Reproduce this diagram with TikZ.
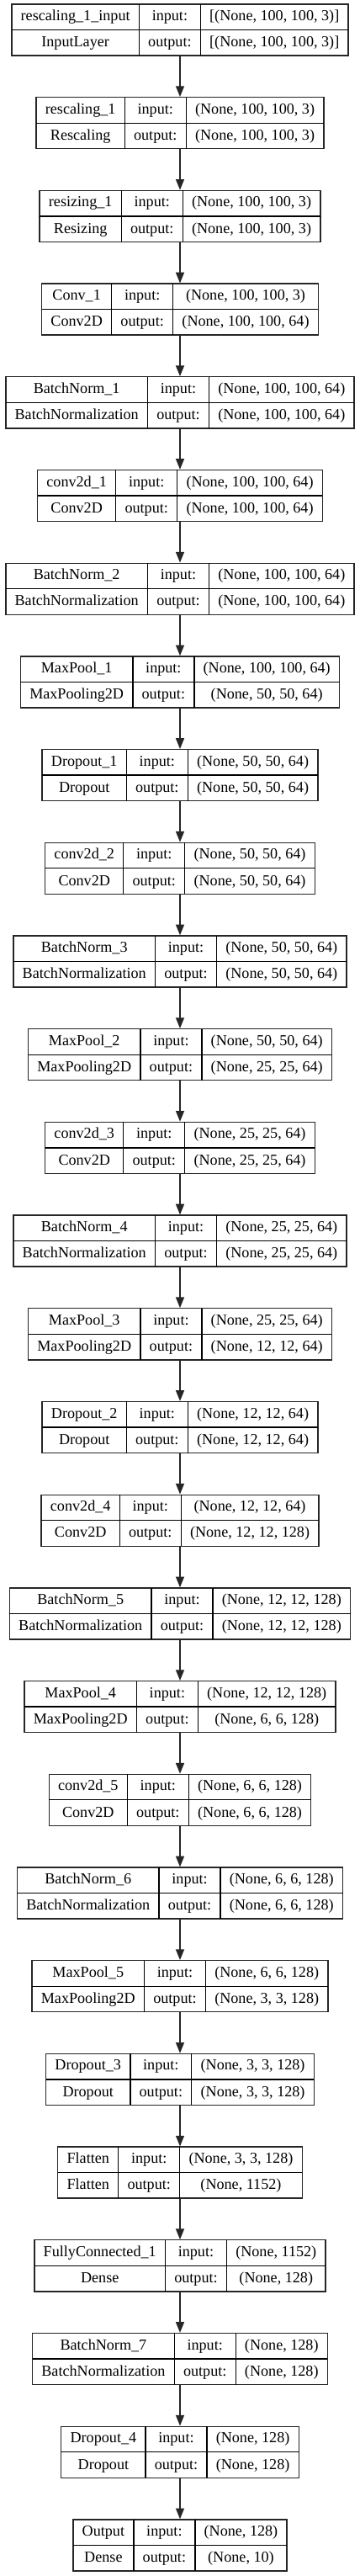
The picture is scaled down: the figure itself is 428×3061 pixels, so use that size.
\documentclass[tikz,border=0pt]{standalone}
\usepackage{fontspec}
\setmainfont{Liberation Serif}
\usetikzlibrary{arrows.meta}
\setlength{\tabcolsep}{8.1pt}
\setlength{\arrayrulewidth}{1pt}
\renewcommand{\arraystretch}{0}
\newcommand{\rs}{\rule[-7.7pt]{0pt}{22.4pt}}
\newcommand{\Layer}[6]{
  \node[layer] (#1) at (214,{35.5+110.7*#2}) {%
    \begin{tabular}{c|c|c}
      \rs#3 & input: & #5\\ \hline
      \rs#4 & output: & #6
    \end{tabular}};
}

\begin{document}
\begin{tikzpicture}[x=0.75pt,y=-0.75pt,
    font=\fontsize{13.6pt}{16pt}\selectfont,
    layer/.style={draw=black!85,line width=1pt,inner sep=0pt,fill=white},
    flow/.style={draw=black!85,line width=1pt,-{Triangle[length=9.5pt,width=7.5pt]}}]
  \useasboundingbox (0,0) rectangle (428,3061);
  \Layer{L0}{0}{rescaling\_1\_input}{InputLayer}{[(None, 100, 100, 3)]}{[(None, 100, 100, 3)]}
  \Layer{L1}{1}{rescaling\_1}{Rescaling}{(None, 100, 100, 3)}{(None, 100, 100, 3)}
  \Layer{L2}{2}{resizing\_1}{Resizing}{(None, 100, 100, 3)}{(None, 100, 100, 3)}
  \Layer{L3}{3}{Conv\_1}{Conv2D}{(None, 100, 100, 3)}{(None, 100, 100, 64)}
  \Layer{L4}{4}{BatchNorm\_1}{BatchNormalization}{(None, 100, 100, 64)}{(None, 100, 100, 64)}
  \Layer{L5}{5}{conv2d\_1}{Conv2D}{(None, 100, 100, 64)}{(None, 100, 100, 64)}
  \Layer{L6}{6}{BatchNorm\_2}{BatchNormalization}{(None, 100, 100, 64)}{(None, 100, 100, 64)}
  \Layer{L7}{7}{MaxPool\_1}{MaxPooling2D}{(None, 100, 100, 64)}{(None, 50, 50, 64)}
  \Layer{L8}{8}{Dropout\_1}{Dropout}{(None, 50, 50, 64)}{(None, 50, 50, 64)}
  \Layer{L9}{9}{conv2d\_2}{Conv2D}{(None, 50, 50, 64)}{(None, 50, 50, 64)}
  \Layer{L10}{10}{BatchNorm\_3}{BatchNormalization}{(None, 50, 50, 64)}{(None, 50, 50, 64)}
  \Layer{L11}{11}{MaxPool\_2}{MaxPooling2D}{(None, 50, 50, 64)}{(None, 25, 25, 64)}
  \Layer{L12}{12}{conv2d\_3}{Conv2D}{(None, 25, 25, 64)}{(None, 25, 25, 64)}
  \Layer{L13}{13}{BatchNorm\_4}{BatchNormalization}{(None, 25, 25, 64)}{(None, 25, 25, 64)}
  \Layer{L14}{14}{MaxPool\_3}{MaxPooling2D}{(None, 25, 25, 64)}{(None, 12, 12, 64)}
  \Layer{L15}{15}{Dropout\_2}{Dropout}{(None, 12, 12, 64)}{(None, 12, 12, 64)}
  \Layer{L16}{16}{conv2d\_4}{Conv2D}{(None, 12, 12, 64)}{(None, 12, 12, 128)}
  \Layer{L17}{17}{BatchNorm\_5}{BatchNormalization}{(None, 12, 12, 128)}{(None, 12, 12, 128)}
  \Layer{L18}{18}{MaxPool\_4}{MaxPooling2D}{(None, 12, 12, 128)}{(None, 6, 6, 128)}
  \Layer{L19}{19}{conv2d\_5}{Conv2D}{(None, 6, 6, 128)}{(None, 6, 6, 128)}
  \Layer{L20}{20}{BatchNorm\_6}{BatchNormalization}{(None, 6, 6, 128)}{(None, 6, 6, 128)}
  \Layer{L21}{21}{MaxPool\_5}{MaxPooling2D}{(None, 6, 6, 128)}{(None, 3, 3, 128)}
  \Layer{L22}{22}{Dropout\_3}{Dropout}{(None, 3, 3, 128)}{(None, 3, 3, 128)}
  \Layer{L23}{23}{Flatten}{Flatten}{(None, 3, 3, 128)}{(None, 1152)}
  \Layer{L24}{24}{FullyConnected\_1}{Dense}{(None, 1152)}{(None, 128)}
  \Layer{L25}{25}{BatchNorm\_7}{BatchNormalization}{(None, 128)}{(None, 128)}
  \Layer{L26}{26}{Dropout\_4}{Dropout}{(None, 128)}{(None, 128)}
  \Layer{L27}{27}{Output}{Dense}{(None, 128)}{(None, 10)}
  % arrows between the layers
  \foreach \i [remember=\i as \j (initially 0)] in {1,...,27}
    \draw[flow] (L\j.south) -- (L\i.north);
\end{tikzpicture}
\end{document}
